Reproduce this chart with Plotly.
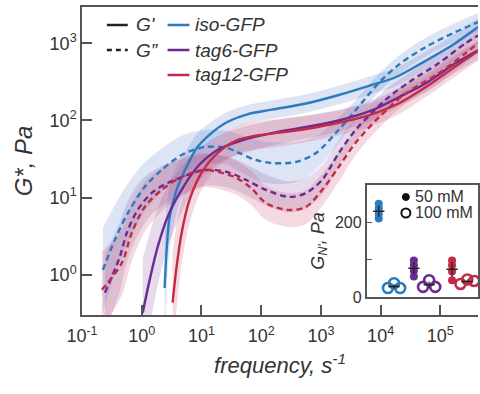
import numpy as np
import plotly.graph_objects as go

# ---------------- data (log10 values) ----------------
# iso-GFP  G'
iso_gp_lx = [0.383, 0.417, 0.467, 0.583, 0.75, 0.933, 1.167, 1.433, 1.767, 2.18, 2.75, 3.3, 3.85, 4.25, 4.68, 5.25, 5.63]
iso_gp_ly = [-0.17, 0.32, 0.75, 1.10, 1.40, 1.656, 1.837, 1.98, 2.08, 2.14, 2.22, 2.33, 2.46, 2.56, 2.74, 3.0, 3.21]
iso_gp_w = [0.7, 0.55, 0.42, 0.3, 0.22, 0.18, 0.15, 0.13, 0.12, 0.12, 0.12, 0.12, 0.12, 0.12, 0.12, 0.12, 0.12]
# iso-GFP  G''
iso_gpp_lx = [-0.65, -0.45, -0.233, 0.05, 0.333, 0.667, 1.05, 1.433, 1.633, 1.917, 2.183, 2.583, 2.917, 3.25, 3.583, 3.967, 4.3, 4.75, 5.25, 5.63]
iso_gpp_ly = [0.065, 0.453, 0.80, 1.138, 1.358, 1.552, 1.656, 1.643, 1.578, 1.488, 1.449, 1.462, 1.578, 1.837, 2.135, 2.484, 2.72, 2.95, 3.144, 3.273]
iso_gpp_w = [0.55, 0.45, 0.38, 0.32, 0.28, 0.25, 0.22, 0.22, 0.24, 0.26, 0.27, 0.26, 0.22, 0.17, 0.13, 0.12, 0.12, 0.12, 0.12, 0.12]

# tag6-GFP  G'
t6_gp_lx = [0.017, 0.133, 0.267, 0.433, 0.667, 0.933, 1.267, 1.667, 2.18, 2.75, 3.3, 3.85, 4.3, 4.75, 5.25, 5.63]
t6_gp_ly = [-0.49, -0.065, 0.362, 0.75, 1.10, 1.40, 1.617, 1.74, 1.837, 1.915, 2.0, 2.13, 2.30, 2.48, 2.74, 2.91]
t6_gp_w = [0.7, 0.6, 0.5, 0.4, 0.3, 0.22, 0.18, 0.17, 0.16, 0.15, 0.14, 0.13, 0.12, 0.12, 0.12, 0.12]
# tag6-GFP  G''
t6_gpp_lx = [-0.617, -0.367, -0.25, -0.067, 0.167, 0.433, 0.767, 1.05, 1.433, 1.75, 2.08, 2.47, 2.75, 3.02, 3.3, 3.58, 3.85, 4.13, 4.52, 4.97, 5.42, 5.63]
t6_gpp_ly = [-0.233, 0.233, 0.543, 0.841, 1.061, 1.19, 1.294, 1.358, 1.332, 1.229, 1.10, 1.01, 1.06, 1.23, 1.578, 1.876, 2.096, 2.30, 2.52, 2.74, 3.0, 3.1]
t6_gpp_w = [0.5, 0.45, 0.38, 0.33, 0.28, 0.25, 0.22, 0.2, 0.2, 0.2, 0.2, 0.2, 0.2, 0.19, 0.17, 0.15, 0.14, 0.13, 0.12, 0.12, 0.12, 0.12]

# tag12-GFP  G'
t12_gp_lx = [0.517, 0.583, 0.667, 0.8, 1.0, 1.267, 1.6, 1.883, 2.18, 2.75, 3.3, 3.85, 4.3, 4.75, 5.25, 5.63]
t12_gp_ly = [-0.36, 0.10, 0.54, 0.97, 1.32, 1.578, 1.746, 1.80, 1.83, 1.89, 1.97, 2.08, 2.22, 2.43, 2.70, 2.90]
t12_gp_w = [0.65, 0.55, 0.42, 0.3, 0.22, 0.18, 0.18, 0.18, 0.18, 0.17, 0.16, 0.15, 0.14, 0.13, 0.13, 0.13]
# tag12-GFP  G''
t12_gpp_lx = [-0.667, -0.333, -0.167, 0.05, 0.333, 0.667, 1.05, 1.55, 1.833, 2.08, 2.47, 2.75, 3.02, 3.3, 3.58, 3.97, 4.42, 4.97, 5.42, 5.63]
t12_gpp_ly = [-0.194, 0.155, 0.543, 0.88, 1.10, 1.268, 1.358, 1.268, 1.125, 0.93, 0.84, 0.88, 1.10, 1.40, 1.71, 2.04, 2.35, 2.61, 2.87, 3.0]
t12_gpp_w = [0.5, 0.42, 0.37, 0.32, 0.28, 0.25, 0.22, 0.22, 0.22, 0.22, 0.22, 0.22, 0.21, 0.19, 0.16, 0.14, 0.13, 0.13, 0.13, 0.13]

# inset: plateau modulus G_N', Pa
inset_pos = [1.0, 2.0, 3.3, 4.3, 5.8, 6.8]
inset_offsets = [[0, 0, 0, 0], [-0.4, 0.0, 0.4], [0, 0, 0, 0], [-0.4, 0.0, 0.4], [0, 0, 0, 0], [-0.45, 0.0, 0.45]]
iso_50 = [250, 238, 222, 210]
iso_100 = [24, 37, 24]
t6_50 = [98, 85, 70, 55]
t6_100 = [27, 45, 27]
t12_50 = [98, 85, 68, 45]
t12_100 = [35, 47, 43]

x_tickvals = [-1, 0, 1, 2, 3, 4, 5]
x_ticktext = ["10<sup>-1</sup>", "10<sup>0</sup>", "10<sup>1</sup>", "10<sup>2</sup>",
              "10<sup>3</sup>", "10<sup>4</sup>", "10<sup>5</sup>"]
y_tickvals = [0, 1, 2, 3]
y_ticktext = ["10<sup>0</sup>", "10<sup>1</sup>", "10<sup>2</sup>", "10<sup>3</sup>"]

# ---------------- styles ----------------
BLUE = "#2b7bbd"
PURPLE = "#6b2c91"
RED = "#c42a45"
BAND = {BLUE: "rgba(100,130,205,0.22)", PURPLE: "rgba(125,75,165,0.20)", RED: "rgba(205,85,115,0.22)"}
AX = "#555555"
TXT = "#333333"
FONT = "Liberation Sans, Arial, sans-serif"

fig = go.Figure()

curves = [
    (iso_gp_lx, iso_gp_ly, iso_gp_w, BLUE, "solid"),
    (iso_gpp_lx, iso_gpp_ly, iso_gpp_w, BLUE, "dash"),
    (t6_gp_lx, t6_gp_ly, t6_gp_w, PURPLE, "solid"),
    (t6_gpp_lx, t6_gpp_ly, t6_gpp_w, PURPLE, "dash"),
    (t12_gp_lx, t12_gp_ly, t12_gp_w, RED, "solid"),
    (t12_gpp_lx, t12_gpp_ly, t12_gpp_w, RED, "dash"),
]

SM = 0.9
for lx, ly, w, col, dash in curves:
    lx = np.array(lx); ly = np.array(ly); w = np.array(w)
    fig.add_trace(go.Scatter(x=10 ** lx, y=10 ** (ly - w), mode="lines",
                             line=dict(width=0, shape="spline", smoothing=SM),
                             hoverinfo="skip", showlegend=False))
    fig.add_trace(go.Scatter(x=10 ** lx, y=10 ** (ly + w), mode="lines", fill="tonexty",
                             fillcolor=BAND[col], line=dict(width=0, shape="spline", smoothing=SM),
                             hoverinfo="skip", showlegend=False))

for lx, ly, w, col, dash in curves:
    fig.add_trace(go.Scatter(x=10 ** np.array(lx), y=10 ** np.array(ly), mode="lines",
                             line=dict(color=col, width=2.4, dash=("6px,4px" if dash == "dash" else "solid"),
                                       shape="spline", smoothing=SM),
                             showlegend=False))

# ---------------- inset ----------------
groups = [iso_50, iso_100, t6_50, t6_100, t12_50, t12_100]
gcols = [BLUE, BLUE, PURPLE, PURPLE, RED, RED]
for i, (vals, col) in enumerate(zip(groups, gcols)):
    xs = [inset_pos[i] + o for o in inset_offsets[i][:len(vals)]]
    filled = (i % 2 == 0)
    fig.add_trace(go.Scatter(x=xs, y=vals, mode="markers", xaxis="x2", yaxis="y2",
                             marker=dict(size=8 if filled else 10,
                                         color=col if filled else "rgba(255,255,255,0)",
                                         symbol="circle",
                                         line=dict(color=col, width=2.6 if not filled else 0)),
                             showlegend=False))
    fig.add_trace(go.Scatter(x=[inset_pos[i]], y=[float(np.mean(vals))], mode="markers",
                             xaxis="x2", yaxis="y2",
                             error_y=dict(type="data", array=[float(np.std(vals))], color="#222",
                                          thickness=1.2, width=0),
                             marker=dict(symbol="line-ew-open", size=8, color="#222",
                                         line=dict(color="#222", width=1.5)),
                             showlegend=False))

# ---------------- layout ----------------
L, R, T, B = 82, 0, 7, 79
W, H = 480, 394
pw, ph = W - L - R, H - T - B


def px(x):
    return (x - L) / pw


def py(y):
    return (H - B - y) / ph


fig.update_layout(
    width=W, height=H, margin=dict(l=L, r=R, t=T, b=B),
    paper_bgcolor="white", plot_bgcolor="white",
    font=dict(family=FONT, color=TXT),
    xaxis=dict(type="log", range=[-1, 5.63], tickvals=[10 ** v for v in x_tickvals], ticktext=x_ticktext,
               ticks="inside", ticklen=10, tickwidth=1.5, tickcolor=AX, showline=True, linecolor=AX,
               linewidth=1.5, mirror=True, showgrid=False, zeroline=False, ticklabelstandoff=4,
               tickfont=dict(size=18, color=TXT),
               title=dict(text="<i>frequency, s<sup>-1</sup></i>", font=dict(size=22, color=TXT), standoff=12)),
    yaxis=dict(type="log", range=[-0.52, 3.47], tickvals=[10 ** v for v in y_tickvals], ticktext=y_ticktext,
               ticks="inside", ticklen=10, tickwidth=1.5, tickcolor=AX, showline=True, linecolor=AX,
               linewidth=1.5, showgrid=False, zeroline=False,
               tickfont=dict(size=18, color=TXT),
               title=dict(text="<i>G*, Pa</i>", font=dict(size=24, color=TXT), standoff=10)),
    xaxis2=dict(domain=[px(368), 1.0], anchor="y2", range=[0.2, 7.5], showticklabels=False, ticks="",
                showline=True, linecolor=AX, linewidth=1.5, mirror=True, showgrid=False, zeroline=False),
    yaxis2=dict(domain=[py(297), py(185)], anchor="x2", range=[0, 300], tickvals=[0, 100, 200],
                ticktext=["0", "", "200"], ticks="inside", ticklen=6, tickwidth=1.2, tickcolor=AX,
                showline=True, linecolor=AX, linewidth=1.5, mirror=True, showgrid=False, zeroline=False,
                tickfont=dict(size=16, color=TXT),
                title=dict(text="<i>G<sub>N'</sub>, Pa</i>", font=dict(size=18, color=TXT), standoff=6)),
)

shapes = []
annots = []
# main legend
leg = [
    (107, 128, 25, "#222", "solid", "G'"),
    (107, 128, 50, "#222", "dash", "G\u201d"),
]
for x0, x1, yy, col, dash, label in leg:
    shapes.append(dict(type="line", xref="paper", yref="paper", x0=px(x0), x1=px(x1), y0=py(yy), y1=py(yy),
                       line=dict(color=col, width=2.5, dash=("5px,4px" if dash == "dash" else "solid"))))
    annots.append(dict(xref="paper", yref="paper", x=px(134), y=py(yy), xanchor="left", yanchor="middle",
                       text="<i>%s</i>" % label, showarrow=False, font=dict(size=19, color=TXT)))
for yy, col, label in [(25, BLUE, "iso-GFP"), (50, PURPLE, "tag6-GFP"), (75, RED, "tag12-GFP")]:
    shapes.append(dict(type="line", xref="paper", yref="paper", x0=px(168), x1=px(190), y0=py(yy), y1=py(yy),
                       line=dict(color=col, width=2.5)))
    annots.append(dict(xref="paper", yref="paper", x=px(194), y=py(yy), xanchor="left", yanchor="middle",
                       text="<i>%s</i>" % label, showarrow=False, font=dict(size=19, color=TXT)))
# inset legend
shapes.append(dict(type="circle", xref="paper", yref="paper", x0=px(404), x1=px(411), y0=py(200.5), y1=py(193.5),
                   fillcolor="#111", line=dict(color="#111", width=1)))
shapes.append(dict(type="circle", xref="paper", yref="paper", x0=px(403), x1=px(412), y0=py(217.5), y1=py(208.5),
                   fillcolor="rgba(0,0,0,0)", line=dict(color="#111", width=2)))
annots.append(dict(xref="paper", yref="paper", x=px(415), y=py(197), xanchor="left", yanchor="middle",
                   text="50 mM", showarrow=False, font=dict(size=16, color=TXT)))
annots.append(dict(xref="paper", yref="paper", x=px(415), y=py(213), xanchor="left", yanchor="middle",
                   text="100 mM", showarrow=False, font=dict(size=16, color=TXT)))

fig.update_layout(shapes=shapes, annotations=annots)
fig.write_html("out.html")
